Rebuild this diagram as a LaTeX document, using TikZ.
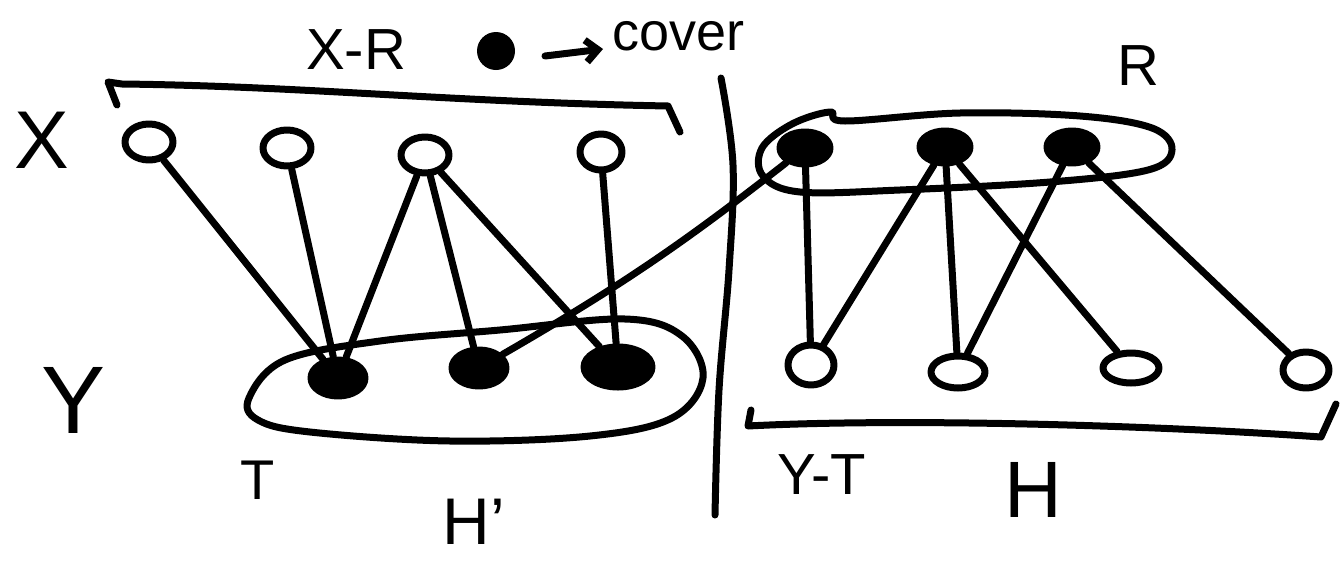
\documentclass[tikz,border=0pt]{standalone}
\usepackage{fontspec}
\setmainfont{Liberation Sans}
\usetikzlibrary{shapes.geometric,arrows.meta}
\begin{document}
\begin{tikzpicture}[x=1pt,y=-1pt,line cap=round,line join=round,
  pen/.style={line width=7pt},
  vtx/.style={ellipse,draw,line width=7pt,inner sep=0pt,minimum width=48pt,minimum height=36pt},
  cov/.style={vtx,fill=black},
  edge/.style={pen},
  lbl/.style={inner sep=0pt,font=\fontsize{#1}{#1}\selectfont}]
\useasboundingbox (0,0) rectangle (1342,563);

% set X (top left)
\node[vtx] (x1) at (149,142) {};
\node[vtx] (x2) at (287,148) {};
\node[vtx] (x3) at (425,155) {};
\node[vtx,minimum width=42pt] (x4) at (601,152) {};

% covered part T of Y
\node[cov,minimum width=54pt] (t1) at (338,378) {};
\node[cov,minimum width=54pt] (t2) at (479,368) {};
\node[cov,minimum width=68pt,minimum height=40pt] (t3) at (618,367) {};

% covering set R
\node[cov,minimum width=50pt,minimum height=32pt] (r1) at (805,148) {};
\node[cov,minimum width=50pt,minimum height=32pt] (r2) at (945,147) {};
\node[cov,minimum width=50pt,minimum height=32pt] (r3) at (1072,147) {};

% rest of Y
\node[vtx,minimum width=46pt,minimum height=40pt] (u1) at (811,365) {};
\node[vtx,minimum width=54pt,minimum height=32pt] (u2) at (958,372) {};
\node[vtx,minimum width=56pt,minimum height=30pt] (u3) at (1131,368) {};
\node[vtx,minimum width=46pt,minimum height=36pt] (u4) at (1306,370) {};

% edges of H'
\draw[edge] (x1) -- (t1);
\draw[edge] (x2) -- (t1);
\draw[edge] (x3) -- (t1);
\draw[edge] (x3) -- (t2);
\draw[edge] (x3) -- (t3);
\draw[edge] (x4) -- (t3);
\draw[edge] (t2) to[bend right=4] (r1);

% edges of H
\draw[edge] (r1) -- (u1);
\draw[edge] (r2) -- (u1);
\draw[edge] (r2) -- (u2);
\draw[edge] (r2) -- (u3);
\draw[edge] (r3) -- (u2);
\draw[edge] (r3) -- (u4);

% loop around T
\draw[pen] plot[smooth cycle,tension=0.6] coordinates {
  (249,398) (285,360) (380,341) (500,330) (625,319) (682,336)
  (703,378) (672,418) (590,436) (450,441) (310,432) (258,420)};

% loop around R
\draw[pen] plot[smooth cycle,tension=0.6] coordinates {
  (845,121) (960,113) (1080,116) (1152,128) (1172,150) (1148,170)
  (1050,182) (900,190) (800,192) (763,176) (762,148) (792,124) (830,112)};

% brackets
\draw[pen] (117,105) -- (108,82) -- (122,84) .. controls (300,86) and (450,102) .. (668,106) -- (680,132);
\draw[pen] (751,410) -- (748,426) .. controls (900,418) and (1150,425) .. (1321,437) -- (1336,404);

% dividing line
\draw[pen] plot[smooth,tension=0.6] coordinates {(721,78) (733,165) (729,270) (719,390) (715,515)};

% legend
\node[circle,fill=black,minimum size=38pt,inner sep=0pt] (dot) at (496,51) {};
\coordinate (ar) at (545,56);
\coordinate (ah) at (603,49);
\draw[pen,-{Straight Barb[length=12pt,width=22pt]}] (ar) -- (ah);
\node[lbl=54,anchor=west] (cv) at (612,36) {cover};

% labels
\node[lbl=58] (xr) at (356,50) {X-R};
\node[lbl=82] (lx) at (42,140) {X};
\node[lbl=96] (ly) at (74,400) {Y};
\node[lbl=58] (lr) at (1138,66) {R};
\node[lbl=56] (lt) at (258,480) {T};
\node[lbl=66] (lh1) at (474,522) {H’};
\node[lbl=58] (lyt) at (822,475) {Y-T};
\node[lbl=80] (lh) at (1033,490) {H};
\end{tikzpicture}
\end{document}
